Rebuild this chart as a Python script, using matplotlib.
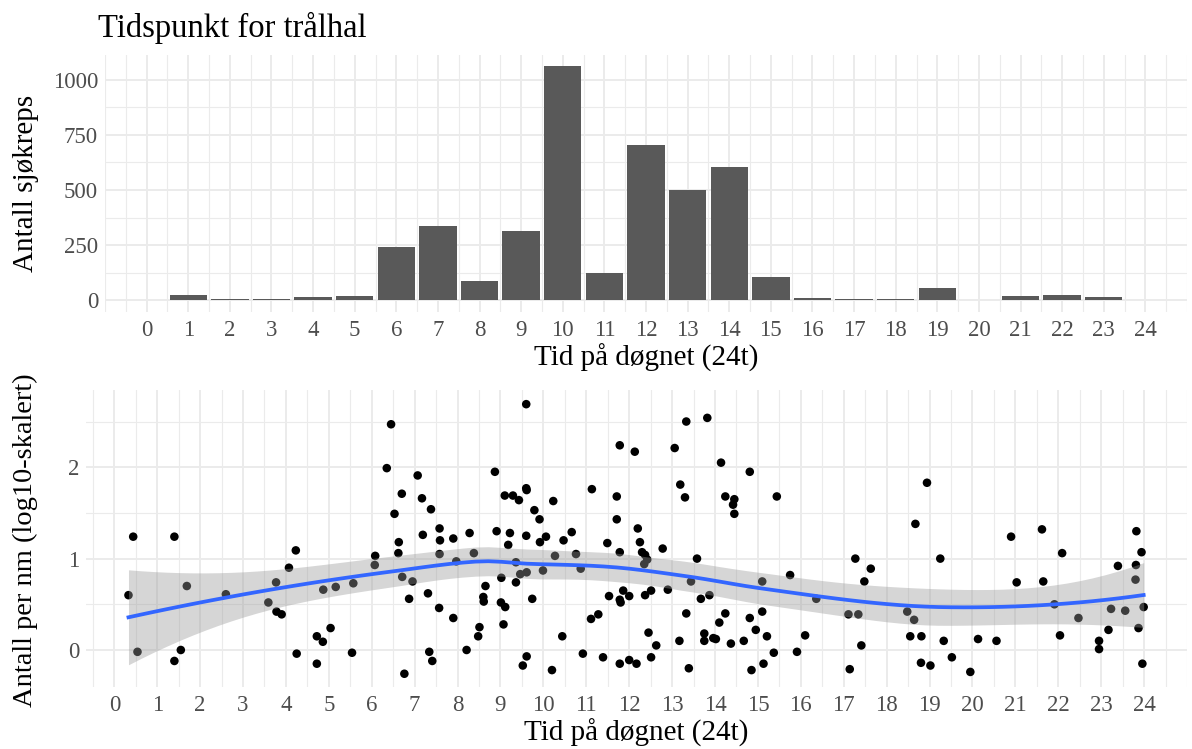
import numpy as np
import matplotlib
matplotlib.use("Agg")
import matplotlib.pyplot as plt

plt.rcParams['font.family'] = ['Liberation Serif', 'DejaVu Serif']

# ---------------- data ----------------
title = "Tidspunkt for trålhal"
hours_bar = list(range(1, 24))
counts_bar = [26, 6, 5, 15, 18, 241, 336, 89, 314, 1059, 124, 705, 498, 605, 105,
              9, 8, 8, 55, 3, 18, 26, 15]

hour_pts = [0.44, 1.40, 0.33, 0.54, 1.69, 1.55, 1.40, 2.60, 3.59, 3.77, 3.78, 3.90, 4.07, 4.23,
            4.25, 4.72, 4.86, 4.72, 5.04, 4.87, 5.16, 5.57, 5.54, 6.08, 6.07,
            6.45, 6.35, 6.70, 6.53, 6.63, 6.62, 6.71, 6.87, 6.76, 6.95, 7.07, 7.17, 7.38, 7.19,
            7.31, 7.34, 7.41, 7.58, 7.59, 7.58, 7.57, 7.90, 7.97, 7.90, 8.21, 8.28, 8.38, 8.65,
            8.60, 8.61, 8.51, 8.48, 8.87, 8.91, 9.02, 9.01, 9.11, 9.07, 9.10, 9.29, 9.43, 9.22,
            9.18, 9.36, 9.46, 9.36, 9.60, 9.60, 9.61, 9.60, 9.61, 9.74, 9.61, 9.52, 9.79, 9.91,
            9.92, 10.06, 9.99, 10.23, 10.27, 10.44, 10.20, 10.47, 10.66, 10.76, 10.87, 10.92,
            11.13, 11.11, 11.28, 11.39, 11.49, 11.53, 11.71, 11.71, 11.78, 11.78, 11.80, 11.86,
            11.78, 11.78, 12.00, 12.00, 12.17, 12.13, 12.20, 12.25, 12.30, 12.37, 12.42, 12.35,
            12.37, 12.51, 12.45, 12.63, 12.51, 12.78, 12.90,
            13.06, 13.33, 13.19, 13.30, 13.58, 13.44, 13.33, 13.17, 13.39, 13.67, 13.87, 13.75,
            13.75, 13.82, 13.96, 14.02, 14.14, 14.24, 14.45, 14.42, 14.45, 14.10, 14.24, 14.37,
            14.67, 14.81, 14.81, 14.95, 14.85, 15.10, 15.10, 15.21, 15.13, 15.37, 15.44, 15.75,
            15.91, 16.10, 16.36, 17.27, 17.11, 17.34, 17.48, 17.63, 17.41, 17.14, 18.48, 18.64,
            18.67, 18.94, 18.55, 18.81, 18.80, 19.02, 19.25,
            19.33, 19.52, 19.95, 20.13, 20.56, 20.90, 21.03, 21.62, 21.65, 21.91, 22.09, 22.04,
            22.47, 22.95, 22.95, 23.17, 23.23, 23.39, 23.56, 23.82, 23.81, 23.80, 23.94, 23.87,
            23.99, 23.96]
log_pts = [1.24, 1.24, 0.60, -0.02, 0.70, 0.00, -0.12, 0.61, 0.52, 0.74, 0.42, 0.39, 0.90, 1.09,
           -0.04, 0.15, 0.09, -0.15, 0.24, 0.66, 0.69, 0.73, -0.03, 1.03, 0.93,
           2.47, 1.99, 1.71, 1.49, 1.18, 1.06, 0.80, 0.56, -0.26, 0.75, 1.91, 1.66, 1.54, 1.26,
           0.62, -0.02, -0.12, 1.33, 1.20, 1.05, 0.46, 1.22, 0.97, 0.35, 0.00, 1.28, 1.06, 0.70,
           0.58, 0.53, 0.25, 0.15, 1.95, 1.30, 0.79, 0.52, 0.47, 0.28, 1.69, 1.69, 1.64, 1.28,
           1.15, 0.96, 0.83, 0.74, 2.69, 1.77, 1.75, 1.25, 0.85, 0.56, -0.07, -0.17, 1.53, 1.43,
           1.18, 1.24, 0.87, 1.63, 1.03, 0.15, -0.22, 1.20, 1.29, 1.05, 0.89, -0.04,
           1.76, 0.34, 0.39, -0.08, 1.17, 0.59, 1.68, 1.43, 1.07, 0.55, 0.52, 0.65,
           2.24, -0.15, 0.59, -0.11, -0.15, 2.17, 1.33, 1.18, 1.07, 1.04, 0.99, 0.94,
           0.60, 0.65, 0.19, 0.05, -0.08, 1.11, 0.66,
           2.21, 2.50, 1.81, 1.67, 1.00, 0.75, 0.40, 0.10, -0.20, 0.56, 0.60, 0.18,
           0.10, 2.54, 0.13, 0.12, 2.05, 1.68, 1.65, 1.59, 1.49, 0.30, 0.40, 0.07,
           0.10, 1.95, 0.35, 0.22, -0.22, 0.75, 0.42, 0.15, -0.15, -0.03, 1.68, 0.82,
           -0.02, 0.16, 0.56, 1.00, 0.39, 0.39, 0.75, 0.89, 0.05, -0.21, 0.42, 0.33,
           1.38, 1.83, 0.15, 0.15, -0.14, -0.17, 1.00,
           0.10, -0.08, -0.24, 0.12, 0.10, 1.24, 0.74, 1.32, 0.75, 0.50, 1.06, 0.16,
           0.35, 0.10, 0.01, 0.22, 0.45, 0.92, 0.43, 1.30, 0.93, 0.77, 1.07, 0.24,
           0.47, -0.15]

x_ticks = list(range(0, 25))
bar_yticks = [0, 250, 500, 750, 1000]
pt_yticks = [0, 1, 2]


# ---------------- loess with kd-tree vertex interpolation (as R's loess) ----------------
def loess_fit(x, y, xg, span=0.75, cell=0.2):
    x = np.asarray(x, float)
    y = np.asarray(y, float)
    n = len(x)
    q = int(np.floor(n * span))
    fc = int(np.floor(n * span * cell))

    # kd-tree vertices
    xs_ = np.sort(x)
    mu = 0.005 * (xs_[-1] - xs_[0])
    verts = {xs_[0] - mu, xs_[-1] + mu}

    def split(pts, a, b):
        if len(pts) <= fc:
            return
        m = (1 + len(pts)) // 2
        while m < len(pts) and pts[m - 1] == pts[m]:
            m += 1
        if m >= len(pts):
            return
        t = pts[m - 1]
        if t == a or t == b:
            return
        verts.add(t)
        split(pts[:m], a, t)
        split(pts[m:], t, b)

    split(xs_, xs_[0] - mu, xs_[-1] + mu)
    V = np.array(sorted(verts))

    def op_rows(x0):
        d = np.abs(x - x0)
        h = np.sort(d)[q - 1]
        w = np.clip(1 - (d / h) ** 3, 0, None) ** 3
        X = np.column_stack([np.ones(n), x - x0, (x - x0) ** 2])
        XtW = X.T * w
        A = np.linalg.pinv(XtW @ X) @ XtW
        return A[0], A[1]

    vals = []
    slos = []
    for v in V:
        a0, a1 = op_rows(v)
        vals.append(a0)
        slos.append(a1)
    vals = np.array(vals)
    slos = np.array(slos)

    def interp_rows(xe):
        j = int(np.clip(np.searchsorted(V, xe, side='right') - 1, 0, len(V) - 2))
        v0, v1 = V[j], V[j + 1]
        hh = v1 - v0
        u = (xe - v0) / hh
        p0 = (1 - u) ** 2 * (1 + 2 * u)
        p1 = u ** 2 * (3 - 2 * u)
        s0 = u * (1 - u) ** 2
        s1 = -u ** 2 * (1 - u)
        return p0 * vals[j] + p1 * vals[j + 1] + hh * (s0 * slos[j] + s1 * slos[j + 1])

    Lg = np.array([interp_rows(v) for v in xg])
    Ld = np.array([interp_rows(v) for v in x])
    fit = Lg @ y
    resid = y - Ld @ y
    IL = np.eye(n) - Ld
    M = IL.T @ IL
    d1 = np.trace(M)
    d2 = np.trace(M @ M)
    sigma = np.sqrt(np.sum(resid ** 2) / d1)
    df = d1 ** 2 / d2
    z = 1.959964
    t = z + (z ** 3 + z) / (4 * df) + (5 * z ** 5 + 16 * z ** 3 + 3 * z) / (96 * df ** 2)
    se = sigma * np.sqrt(np.sum(Lg ** 2, axis=1))
    return fit, fit - t * se, fit + t * se


# ---------------- figure ----------------
W, H = 1192, 749
fig = plt.figure(figsize=(W / 100, H / 100), dpi=100)

grid_col = '#EBEBEB'
tick_col = '#4D4D4D'
tick_fs = 16.5
lab_fs = 21


def style(ax, xlim, ylim, yticks, yminor, xminor):
    ax.set_xlim(*xlim)
    ax.set_ylim(*ylim)
    ax.set_xticks(x_ticks)
    ax.set_xticks(xminor, minor=True)
    ax.set_yticks(yticks)
    ax.set_yticks(yminor, minor=True)
    ax.grid(True, which='major', color=grid_col, lw=1.4, zorder=0)
    ax.grid(True, which='minor', color=grid_col, lw=0.8, zorder=0)
    ax.set_axisbelow(True)
    for s in ax.spines.values():
        s.set_visible(False)
    ax.tick_params(which='both', length=0, colors=tick_col, labelsize=tick_fs, pad=6)
    ax.tick_params(axis='y', pad=5)


# top panel
ax1 = fig.add_axes([105 / W, 1 - 312 / H, (1187 - 105) / W, (312 - 55) / H])
ax1.bar(hours_bar, counts_bar, width=0.9, color='#595959', zorder=2)
style(ax1, (-1, 25), (-53, 1111), bar_yticks, [125, 375, 625, 875],
      [v for v in np.arange(-1, 25.01, 0.5) if v % 1 != 0 or v in (-1, 25)])
ax1.set_xlabel("Tid på døgnet (24t)", fontsize=lab_fs, labelpad=2)
fig.text(26 / W, 1 - 183 / H, "Antall sjøkreps", rotation=90, fontsize=lab_fs,
         ha='center', va='center')
fig.text(98 / W, 1 - 37 / H, title, fontsize=23.5, ha='left', va='baseline')

# bottom panel
ax2 = fig.add_axes([86 / W, 1 - 687 / H, (1187 - 86) / W, (687 - 390) / H])
ax2.scatter(hour_pts, log_pts, s=38, color='black', edgecolors='none', zorder=2)
xs = np.linspace(min(hour_pts), max(hour_pts), 80)
fit, lo, hi = loess_fit(hour_pts, log_pts, xs)
ax2.fill_between(xs, lo, hi, color='#999999', alpha=0.4, lw=0, zorder=3)
ax2.plot(xs, fit, color='#3366FF', lw=2.7, zorder=4)
style(ax2, (-0.66, 25.0), (-0.405, 2.845), pt_yticks, [0.5, 1.5, 2.5],
      [v for v in np.arange(-0.5, 25.01, 0.5) if v % 1 != 0 or v == 25])
ax2.set_xlabel("Tid på døgnet (24t)", fontsize=lab_fs, labelpad=2)
fig.text(25 / W, 1 - 540 / H, "Antall per nm (log10-skalert)", rotation=90, fontsize=20.5,
         ha='center', va='center')

fig.savefig("out.png", dpi=100)
